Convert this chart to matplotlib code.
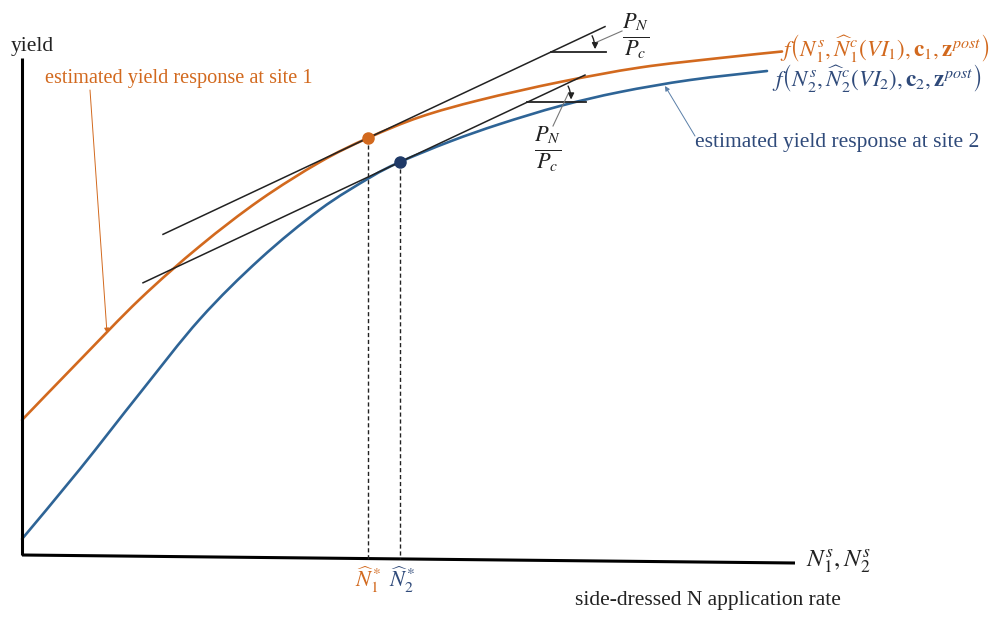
import numpy as np
import matplotlib
matplotlib.use('Agg')
import matplotlib.pyplot as plt
from matplotlib.patches import FancyArrowPatch, PathPatch
from matplotlib.path import Path

plt.rcParams['font.family'] = ['Liberation Serif', 'DejaVu Serif']
plt.rcParams['mathtext.fontset'] = 'stix'

# --- schematic values (in pixel-like units, y grows downward) ---
site1_N = [22, 80, 140, 200, 260, 320, 368, 420, 480, 560, 640, 720, 782]
site1_yield = [420, 360, 299, 246, 200, 162, 138, 117, 100, 82, 67.5, 58, 51.5]

site2_N = [22, 80, 140, 200, 260, 320, 370, 400, 450, 500, 560, 620, 690, 767]
site2_yield = [539, 469, 393, 319, 259, 209.5, 177.5, 162, 141.5, 124, 106, 92, 80, 71]

opt_N = [368, 400]          # N1*, N2*
opt_yield = [138, 162]
price_ratio = 0.47          # slope of the iso-profit (P_N / P_c) lines
tangent_start = [163, 143]
tangent_end = [605, 585]
angle_vertex_N = [551, 527]

axis_origin = (22, 555)
axis_x_end = (795, 563)
axis_y_top = 58

ORANGE = '#D2691E'
BLUE = '#2E6496'
NAVY = '#1F3A68'
BLUE_TXT = '#2F4A7A'


def smooth_path(xs, ys):
    """Cubic Bezier path through the read points (Catmull-Rom handles)."""
    p = np.column_stack([xs, ys]).astype(float)
    verts = [p[0]]
    codes = [Path.MOVETO]
    n = len(p)
    for k in range(n - 1):
        p0 = p[k - 1] if k > 0 else p[k]
        p1, p2 = p[k], p[k + 1]
        p3 = p[k + 2] if k + 2 < n else p[k + 1]
        verts += [p1 + (p2 - p0) / 6.0, p2 - (p3 - p1) / 6.0, p2]
        codes += [Path.CURVE4] * 3
    return Path(verts, codes)


fig = plt.figure(figsize=(10.06, 6.17), dpi=100)
ax = fig.add_axes([0, 0, 1, 1])
ax.set_xlim(0, 1006)
ax.set_ylim(617, 0)
ax.axis('off')

# axes of the schematic
ax.plot([axis_origin[0], axis_origin[0]], [axis_y_top, axis_origin[1]], color='black', lw=2.2,
        solid_capstyle='butt')
ax.plot([axis_origin[0], axis_x_end[0]], [axis_origin[1], axis_x_end[1]], color='black', lw=2.2,
        solid_capstyle='butt')

# yield response curves
ax.add_patch(PathPatch(smooth_path(site1_N, site1_yield), facecolor='none', edgecolor=ORANGE,
                       lw=1.9, capstyle='round'))
ax.add_patch(PathPatch(smooth_path(site2_N, site2_yield), facecolor='none', edgecolor=BLUE,
                       lw=1.9, capstyle='round'))

# tangent (price ratio) lines and angle marks
for i in range(2):
    xs = np.array([tangent_start[i], tangent_end[i]])
    ys = opt_yield[i] - price_ratio * (xs - opt_N[i])
    ax.plot(xs, ys, color='#222222', lw=1.1)
    vx = angle_vertex_N[i]
    vy = opt_yield[i] - price_ratio * (vx - opt_N[i])
    hx_end = tangent_end[i] + 1
    ax.plot([vx, hx_end], [vy, vy], color='#222222', lw=1.3)
    r = 44
    th = np.arctan(price_ratio)
    p_top = (vx + r * np.cos(th), vy - r * np.sin(th))
    p_bot = (vx + r, vy)
    arc = FancyArrowPatch(p_top, p_bot, connectionstyle='arc3,rad=-0.15',
                          arrowstyle='-|>', mutation_scale=9, color='#222222', lw=1.0)
    ax.add_patch(arc)

# optimum points and drop lines
dot_colors = [ORANGE, NAVY]
for i in range(2):
    base_y = axis_origin[1] + (axis_x_end[1] - axis_origin[1]) * (opt_N[i] - axis_origin[0]) / (axis_x_end[0] - axis_origin[0])
    ax.plot([opt_N[i], opt_N[i]], [opt_yield[i], base_y], color='#222222', lw=1.0, ls=(0, (3, 2)))
    ax.plot(opt_N[i], opt_yield[i], 'o', color=dot_colors[i], ms=8, zorder=5)

# fraction labels with leader lines
ax.text(636, 36, r'$\frac{P_N}{P_c}$', fontsize=23, ha='center', va='center', color='#222222')
ax.plot([622, 597], [31, 42], color='#777777', lw=0.8)
ax.text(548, 149, r'$\frac{P_N}{P_c}$', fontsize=23, ha='center', va='center', color='#222222')
ax.plot([553, 568], [126, 94], color='#777777', lw=0.8)

# curve labels
ax.text(780, 48, r'$f\left(N_1^s,\widehat{N}_1^c(VI_1),\mathbf{c}_1,\mathbf{z}^{post}\right)$',
        fontsize=16.5, color=ORANGE, ha='left', va='center')
ax.text(772, 78, r'$f\left(N_2^s,\widehat{N}_2^c(VI_2),\mathbf{c}_2,\mathbf{z}^{post}\right)$',
        fontsize=16.5, color=BLUE_TXT, ha='left', va='center')

# annotations
ax.text(45, 78, 'estimated yield response at site 1', fontsize=14.6, color=ORANGE,
        ha='left', va='center')
ax.annotate('', xy=(107, 333), xytext=(90, 90),
            arrowprops=dict(arrowstyle='-|>', color=ORANGE, lw=0.7, mutation_scale=7,
                            shrinkA=0, shrinkB=0))
ax.text(695, 143, 'estimated yield response at site 2', fontsize=15.5, color=BLUE_TXT,
        ha='left', va='center')
ax.annotate('', xy=(665, 86), xytext=(695, 136),
            arrowprops=dict(arrowstyle='-|>', color='#5A7FA8', lw=0.7, mutation_scale=7,
                            shrinkA=0, shrinkB=0))

# axis labels
ax.text(11, 46, 'yield', fontsize=15.5, color='#222222', ha='left', va='center')
ax.text(806, 562, r'$N_1^s, N_2^s$', fontsize=18, color='#222222', ha='left', va='center')
ax.text(575, 601, 'side-dressed N application rate', fontsize=15.5, color='#222222',
        ha='left', va='center')
ax.text(opt_N[0], 580, r'$\widehat{N}_1^*$', fontsize=16, color=ORANGE, ha='center', va='center')
ax.text(opt_N[1] + 2, 580, r'$\widehat{N}_2^*$', fontsize=16, color=BLUE_TXT, ha='center', va='center')

fig.savefig('out.png', dpi=100, facecolor='white')
plt.close(fig)
